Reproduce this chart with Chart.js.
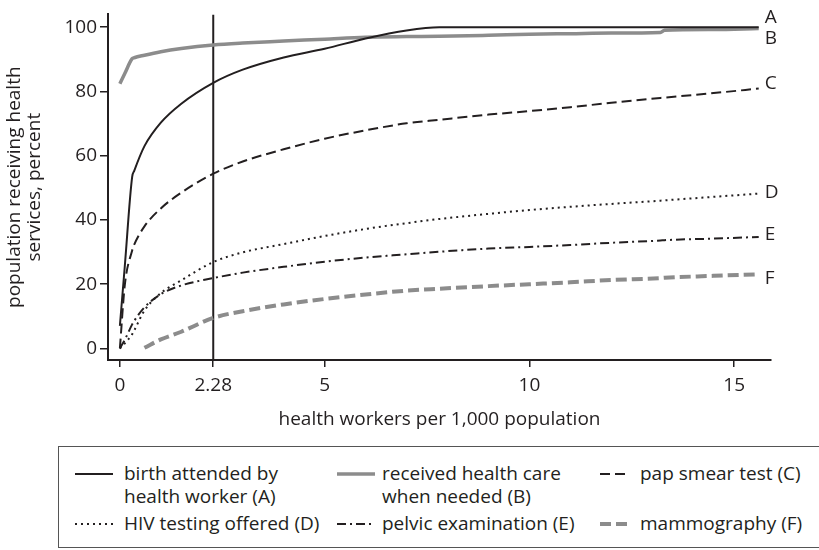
<!DOCTYPE html>
<html>
<head>
<meta charset="utf-8">
<script src="https://cdn.jsdelivr.net/npm/chart.js@4.4.0/dist/chart.umd.min.js"></script>
<style>
  body { margin: 0; width: 819px; height: 550px; overflow: hidden; background: #fff; font-family: 'Open Sans', sans-serif; color: #231f20; }
  #wrap { position: absolute; left: 0; top: 0; width: 819px; height: 446px; }
  #legendBox { position: absolute; left: 58px; top: 446px; width: 800px; height: 100px; border: 1.5px solid #555; }
  .sample { position: absolute; }
  .label { position: absolute; font-size: 19px; line-height: 23px; white-space: pre; }
</style>
</head>
<body>
<div id="wrap"><canvas id="myChart" width="819" height="446"></canvas></div>
<div id="legendBox"></div>
<div id="legend"></div>
<script>
// health workers per 1,000 population
const xValues = [0, 0.12, 0.3, 0.35, 0.6, 1, 1.5, 2.28, 3, 4, 5, 6, 7, 7.8, 9, 10, 11, 12, 13.2, 13.3, 14.5, 15.6];

// percent of population receiving the service
const birthAttended = [7, 25.6, 53.4, 55.3, 63, 70.3, 76.2, 82.7, 86.8, 90.6, 93.3, 96.5, 99, 100, 100, 100, 100, 100, 100, 100, 100, 100];
const receivedCare = [82.4, 85.6, 90.2, 90.5, 91.3, 92.4, 93.4, 94.5, 95.1, 95.7, 96.3, 96.9, 97.1, 97.2, 97.5, 97.8, 98.0, 98.2, 98.4, 99.1, 99.3, 99.6];
const papSmear = [0, 19.7, 30.5, 32.3, 38, 43.6, 48.5, 54.4, 58.2, 62, 65.3, 67.9, 70.1, 71.2, 72.8, 73.9, 75.1, 76.5, 78, 78.1, 79.5, 80.9];
const hivTesting = [0, 1.6, 4.4, 5.6, 11.8, 17.2, 21.2, 26.9, 29.9, 32.5, 35, 37.2, 39, 40.3, 41.9, 43.1, 44.1, 45, 46, 46.1, 47.2, 48.2];
const pelvicExam = [0, 2.7, 7.5, 8.6, 12.8, 16.9, 19.6, 21.9, 23.6, 25.4, 27, 28.3, 29.3, 30.1, 31.1, 31.6, 32.2, 32.9, 33.6, 33.7, 34.2, 34.7];
const mammography = [null, null, null, null, 0.2, 2.8, 5.2, 9.5, 11.6, 13.7, 15.4, 16.8, 18, 18.6, 19.4, 20, 20.6, 21.3, 21.9, 22, 22.6, 23.1];

const seriesNames = [
  'birth attended by\nhealth worker (A)',
  'received health care\nwhen needed (B)',
  'pap smear test (C)',
  'HIV testing offered (D)',
  'pelvic examination (E)',
  'mammography (F)'
];
const endLabels = ['A', 'B', 'C', 'D', 'E', 'F'];
const xTicks = [0, 2.28, 5, 10, 15];
const yTicks = [0, 20, 40, 60, 80, 100];
const threshold = 2.28;
const xMin = -0.29, xMax = 15.9, yMin = -3.6, yMax = 104;

const allSeries = [birthAttended, receivedCare, papSmear, hivTesting, pelvicExam, mammography];

const DARK = '#231f20';
const GREY = '#8c8c8c';
const styles = [
  { color: DARK, width: 2, dash: [] },
  { color: GREY, width: 3.5, dash: [] },
  { color: DARK, width: 2, dash: [10, 5] },
  { color: DARK, width: 2, dash: [2, 4] },
  { color: DARK, width: 2, dash: [9, 4, 2, 4] },
  { color: GREY, width: 4, dash: [11, 5] }
];
const labelNudge = [-10, 10, -5, -1, -2, 4];

const datasets = allSeries.map((vals, i) => ({
  label: seriesNames[i],
  data: xValues.map((x, j) => ({ x: x, y: vals[j] })),
  borderColor: styles[i].color,
  borderWidth: styles[i].width,
  borderDash: styles[i].dash,
  pointRadius: 0,
  cubicInterpolationMode: 'monotone',
  fill: false
}));
datasets.push({
  label: 'threshold',
  data: [{ x: threshold, y: yMin }, { x: threshold, y: yMax }],
  borderColor: DARK,
  borderWidth: 2,
  pointRadius: 0
});

const endLabelPlugin = {
  id: 'endLabels',
  afterDatasetsDraw(chart) {
    const ctx = chart.ctx;
    const xs = chart.scales.x, ys = chart.scales.y;
    ctx.save();
    ctx.font = '19px "Open Sans"';
    ctx.fillStyle = DARK;
    ctx.textBaseline = 'middle';
    ctx.textAlign = 'left';
    allSeries.forEach((vals, i) => {
      const j = vals.length - 1;
      const px = xs.getPixelForValue(xValues[j]) + 6;
      const py = ys.getPixelForValue(vals[j]) + labelNudge[i];
      ctx.fillText(endLabels[i], px, py);
    });
    ctx.restore();
  }
};

const font = { family: 'Open Sans', size: 19 };
const ctx = document.getElementById('myChart');

new Chart(ctx, {
  type: 'line',
  data: { datasets: datasets },
  plugins: [endLabelPlugin],
  options: {
    responsive: false,
    animation: false,
    devicePixelRatio: 1,
    layout: { padding: { top: 5, right: 48, left: 0, bottom: 0 } },
    plugins: { legend: { display: false }, tooltip: { enabled: false } },
    scales: {
      x: {
        type: 'linear',
        min: xMin,
        max: xMax,
        afterBuildTicks: (scale) => { scale.ticks = xTicks.map((v) => ({ value: v })); },
        afterFit: (scale) => { scale.height = 86; },
        ticks: { font: font, color: DARK, padding: 7, maxRotation: 0, autoSkip: false, callback: (v) => String(v) },
        grid: { drawOnChartArea: false, drawTicks: true, tickLength: 7, color: DARK, lineWidth: 1.5 },
        border: { display: true, color: DARK, width: 2 },
        title: { display: true, text: 'health workers per 1,000 population', font: font, color: DARK, padding: { top: 0, bottom: 15 } }
      },
      y: {
        min: yMin,
        max: yMax,
        afterBuildTicks: (scale) => { scale.ticks = yTicks.map((v) => ({ value: v })); },
        afterFit: (scale) => { scale.width = 108; },
        ticks: { font: font, color: DARK, padding: 3 },
        grid: { drawOnChartArea: false, drawTicks: true, tickLength: 8, color: DARK, lineWidth: 1.5 },
        border: { display: true, color: DARK, width: 2 },
        title: { display: true, text: ['population receiving health', 'services, percent'], font: { family: 'Open Sans', size: 19, lineHeight: 1.05 }, color: DARK, padding: { top: 5, bottom: 0 } }
      }
    }
  }
});

// legend box below the chart, three columns and two rows
const legendCols = [75, 337, 600];
const sampleWidths = [38, 38, 30];
const textLeft = [124, 382, 640];
const rowCentre = [474, 524];
const legendDiv = document.getElementById('legend');
seriesNames.forEach((name, i) => {
  const col = i % 3, row = Math.floor(i / 3);
  const cy = rowCentre[row];
  const w = sampleWidths[col];
  const st = styles[i];
  const temp_html = `<svg class="sample" style="left:${legendCols[col]}px;top:${cy - 5}px" width="${w}" height="10">
      <line x1="0" y1="5" x2="${w}" y2="5" stroke="${st.color}" stroke-width="${st.width}" stroke-dasharray="${st.dash.length ? st.dash.join(' ') : 'none'}"/></svg>
    <div class="label" style="left:${textLeft[col]}px;top:${cy - 12}px">${name}</div>`;
  legendDiv.insertAdjacentHTML('beforeend', temp_html);
});
</script>
</body>
</html>
